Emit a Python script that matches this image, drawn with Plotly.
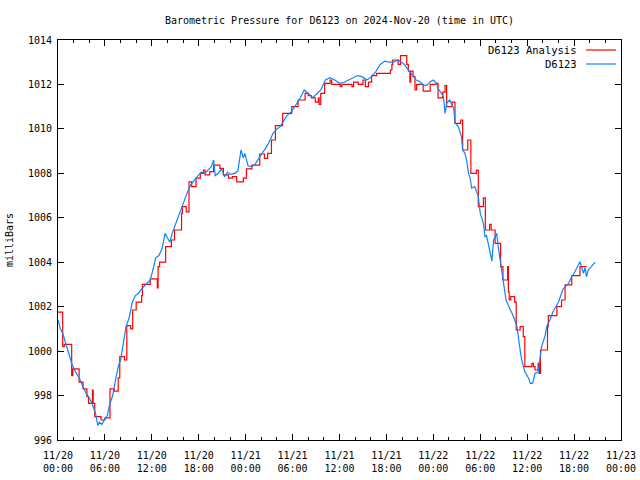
import plotly.graph_objects as go
import pandas as pd

start = pd.Timestamp("2024-11-20 00:00")

# D6123 observations: hours after start, pressure (mb)
obs_hours = [0.0, 0.3, 0.6, 1.0, 1.4, 1.8, 2.2, 2.7, 3.2, 3.6, 4.0, 4.4, 4.8, 5.1, 5.3, 5.6,
             6.0, 6.3, 6.6, 7.0, 7.3, 7.7, 8.0, 8.3, 8.7, 9.1, 9.5, 9.9, 10.3, 10.7, 11.2, 11.8,
             12.1, 12.5, 12.9, 13.3, 13.7, 14.0, 14.3, 14.6, 15.0, 15.4, 15.8, 16.2, 16.6, 17.0,
             17.5, 17.9, 18.3, 18.8, 19.2, 19.6, 19.9, 20.1, 20.5, 20.9, 21.3, 21.7, 22.1, 22.6,
             23.0, 23.2, 23.4, 23.7, 23.9, 24.3, 24.6, 25.1, 25.5, 26.0, 26.5, 27.0, 27.5, 28.0,
             28.4, 28.8, 29.3, 29.9, 30.5, 31.0, 31.5, 32.0, 32.6, 33.0, 33.6, 34.2, 34.8, 35.4,
             36.0, 36.6, 37.2, 37.8, 38.3, 38.9, 39.5, 40.1, 40.6, 41.2, 41.8, 42.3, 42.9, 43.5,
             43.9, 44.3, 44.8, 45.4, 45.8, 46.3, 46.7, 47.2, 47.6, 48.0, 48.4, 48.6, 48.9, 49.3,
             49.5, 49.7, 50.1, 50.6, 50.8, 51.2, 51.6, 51.75, 52.05, 52.25, 52.5, 52.7, 52.9, 53.3,
             53.75, 54.0, 54.4, 54.6, 54.8, 55.2, 55.5, 55.7, 56.1, 56.3, 56.5, 56.7, 56.9, 57.1,
             57.3, 57.8, 58.2, 58.7, 58.9, 59.1, 59.3, 59.7, 60.2, 60.4, 60.7, 61.0, 61.4, 61.85,
             62.3, 62.5, 62.9, 63.3, 64.0, 64.6, 65.3, 65.7, 66.1, 66.3, 66.75, 67.2, 67.4, 67.6,
             67.8, 68.2, 68.7]
obs_mb = [1001.4, 1001.0, 1000.8, 1000.3, 999.8, 999.4, 999.1, 998.8, 998.4, 998.1, 997.9, 997.6,
          997.2, 996.65, 996.8, 996.7, 996.95, 997.1, 997.6, 998.0, 998.6, 999.3, 999.6, 1000.3,
          1001.1, 1001.5, 1002.2, 1002.5, 1002.6, 1002.8, 1003.0, 1003.2, 1003.6, 1004.2, 1004.3,
          1004.6, 1005.3, 1005.1, 1004.9, 1005.3, 1005.7, 1006.0, 1006.4, 1006.8, 1007.2, 1007.5,
          1007.7, 1007.85, 1008.05, 1008.0, 1008.15, 1008.3, 1008.6, 1007.9, 1008.0, 1008.2,
          1007.85, 1008.05, 1007.95, 1008.0, 1008.1, 1008.7, 1009.05, 1008.7, 1008.9, 1008.35,
          1008.3, 1008.35, 1008.6, 1008.85, 1009.1, 1009.4, 1009.8, 1010.0, 1010.1, 1010.3,
          1010.6, 1010.8, 1011.1, 1011.4, 1011.75, 1011.6, 1011.4, 1011.55, 1011.75, 1012.2,
          1012.3, 1012.2, 1012.05, 1012.1, 1012.2, 1012.3, 1012.4, 1012.35, 1012.2, 1012.35,
          1012.55, 1012.9, 1013.05, 1013.0, 1013.0, 1013.1, 1013.0, 1012.9, 1012.65, 1012.35,
          1012.2, 1012.12, 1011.97, 1011.97, 1012.12, 1012.2, 1012.05, 1011.83, 1011.67, 1011.45,
          1010.7, 1011.15, 1011.3, 1010.93, 1010.25, 1010.1, 1009.65, 1009.05, 1008.9, 1008.6,
          1008.0, 1007.8, 1007.33, 1007.4, 1006.95, 1006.2, 1005.75, 1005.15, 1005.2, 1004.5,
          1004.05, 1005.0, 1005.3, 1004.7, 1004.2, 1003.65, 1003.35, 1002.7, 1002.3, 1001.9,
          1001.6, 1001.1, 1000.5, 1000.05, 999.6, 999.07, 998.77, 998.55, 998.55, 999.0, 999.05,
          1000.2, 1000.7, 1001.1, 1001.4, 1001.77, 1002.2, 1002.8, 1003.05, 1003.35, 1003.57,
          1003.72, 1004.02, 1003.5, 1003.75, 1003.35, 1003.65, 1003.8, 1004.0]

# D6123 Analysis: step values (hours after start, pressure mb)
ana_hours = [0.0, 0.6, 0.8, 1.75, 1.9, 2.7, 3.2, 3.7, 3.9, 4.4, 4.5, 4.7, 5.5, 6.0, 6.65, 7.2,
             7.7, 7.9, 8.5, 8.8, 9.3, 9.55, 10.0, 10.7, 10.8, 11.8, 12.7, 12.8, 13.0, 13.77, 14.5,
             14.9, 15.8, 15.9, 16.4, 16.75, 17.1, 17.65, 18.2, 18.6, 18.8, 19.4, 19.9, 20.7,
             21.15, 21.8, 22.3, 22.85, 23.7, 24.1, 24.8, 25.8, 26.4, 26.8, 27.3, 27.8, 28.73,
             29.9, 30.7, 31.6, 32.0, 32.4, 32.9, 33.3, 33.4, 33.6, 34.1, 34.8, 35.0, 36.1, 36.3,
             37.6, 37.8, 38.4, 39.0, 39.3, 39.7, 40.1, 40.75, 42.5, 42.7, 42.8, 43.5, 43.8, 44.6,
             44.8, 45.0, 45.1, 45.4, 45.65, 45.85, 46.7, 47.6, 48.4, 48.6, 49.2, 49.5, 49.7, 50.4,
             50.77, 51.5, 51.75, 52.4, 52.8, 53.5, 53.75, 54.4, 54.65, 55.2, 55.4, 55.9, 56.6,
             56.9, 57.5, 57.6, 57.7, 57.9, 58.4, 58.6, 59.1, 59.5, 59.7, 60.6, 60.8, 61.0, 61.4,
             61.55, 61.7, 62.6, 62.7, 63.8, 64.4, 64.85, 65.7, 66.75, 67.6]
ana_mb = [1001.75, 1000.2, 1000.3, 998.9, 999.2, 998.6, 998.3, 997.95, 997.65, 998.25, 997.65,
          997.05, 996.9, 997.0, 998.3, 998.2, 998.8, 999.75, 999.6, 1001.15, 1001.0, 1001.85,
          1002.2, 1002.5, 1003.0, 1003.25, 1002.85, 1003.8, 1004.0, 1004.7, 1005.0, 1005.45,
          1006.2, 1006.5, 1006.27, 1007.62, 1007.4, 1007.78, 1008.0, 1008.15, 1007.93, 1008.08,
          1008.37, 1008.22, 1007.93, 1007.78, 1007.85, 1007.62, 1007.78, 1008.2, 1008.37,
          1008.87, 1008.67, 1008.9, 1009.5, 1010.15, 1010.7, 1011.0, 1011.3, 1011.6, 1011.5,
          1011.4, 1011.2, 1011.4, 1011.1, 1011.6, 1012.05, 1012.2, 1012.0, 1011.9, 1012.0,
          1011.9, 1012.1, 1012.0, 1012.2, 1011.9, 1012.1, 1012.4, 1012.5, 1012.65, 1012.9,
          1013.1, 1012.9, 1013.3, 1012.9, 1012.6, 1012.1, 1012.6, 1012.35, 1011.75, 1012.0,
          1011.7, 1012.0, 1012.05, 1011.4, 1011.65, 1011.95, 1011.0, 1011.2, 1010.25, 1010.4,
          1009.05, 1009.5, 1008.0, 1008.15, 1006.5, 1006.9, 1005.45, 1005.7, 1005.45, 1004.85,
          1003.8, 1003.2, 1003.8, 1002.67, 1002.3, 1002.45, 1002.2, 1000.95, 1001.1, 1000.65,
          999.3, 999.45, 999.3, 999.15, 999.45, 999.0, 1000.05, 1001.1, 1001.6, 1002.0, 1002.3,
          1002.98, 1003.4, 1003.8, 1003.8]

series_names = ["D6123 Analysis", "D6123"]
series_colors = ["#ff0000", "#0a84ff"]
title_text = "Barometric Pressure for D6123 on 2024-Nov-20 (time in UTC)"
y_title = "milliBars"

x_obs = [start + pd.Timedelta(hours=h) for h in obs_hours]
x_ana = [start + pd.Timedelta(hours=h) for h in ana_hours]

FONT = "DejaVu Sans Mono"

fig = go.Figure()
fig.add_trace(go.Scatter(x=x_ana, y=ana_mb, mode="lines", name=series_names[0],
                         line=dict(color=series_colors[0], width=1.2, shape="hv"),
                         showlegend=False))
fig.add_trace(go.Scatter(x=x_obs, y=obs_mb, mode="lines", name=series_names[1],
                         line=dict(color=series_colors[1], width=1.2),
                         showlegend=False))

# gnuplot-like legend: text on the left, sample on the right
leg_rows = [0.975, 0.94]
for name, color, yy in zip(series_names, series_colors, leg_rows):
    fig.add_annotation(x=0.925, y=yy, xref="paper", yref="paper", text=name,
                       showarrow=False, xanchor="right", yanchor="middle",
                       font=dict(family=FONT, size=10.5, color="black"))
    fig.add_shape(type="line", xref="paper", yref="paper", x0=0.938, x1=0.991,
                  y0=yy, y1=yy, line=dict(color=color, width=1.2))

six_h = 6 * 3600 * 1000
fig.update_layout(
    width=640, height=480,
    margin=dict(l=58, r=19, t=40, b=40),
    paper_bgcolor="white", plot_bgcolor="white",
    font=dict(family=FONT, size=10, color="black"),
    title=dict(text=title_text, x=(58 + 621) / 2 / 640, xanchor="center", y=1 - 20 / 480,
               yanchor="middle", font=dict(family=FONT, size=10)),
    xaxis=dict(range=[start, start + pd.Timedelta(hours=72)], type="date",
               tick0=start, dtick=six_h, tickformat="%m/%d<br>%H:%M",
               ticks="inside", ticklen=6, tickcolor="black", showgrid=False,
               showline=True, linecolor="black", linewidth=1, mirror="ticks",
               ticklabelstandoff=6, automargin=False,
               minor=dict(dtick=2 * 3600 * 1000, ticks="inside", ticklen=3, tickcolor="black"),
               zeroline=False),
    yaxis=dict(range=[996, 1014], dtick=2, tick0=996, ticks="inside", ticklen=6,
               tickcolor="black", showgrid=False, showline=True, linecolor="black",
               linewidth=1, mirror="ticks", zeroline=False, ticklabelstandoff=3,
               automargin=False,
               title=dict(text=y_title, standoff=12, font=dict(family=FONT, size=10))),
)

fig.write_html("out.html", config={"displayModeBar": False},
               post_script="document.body.style.margin='0';")
